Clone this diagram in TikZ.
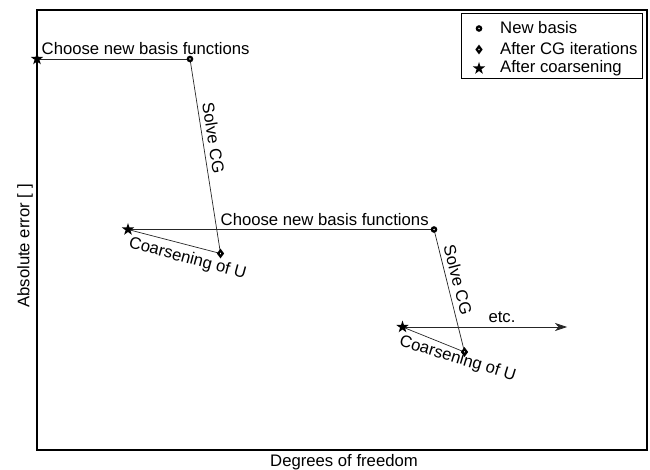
\documentclass[tikz,border=0pt]{standalone}
\usepackage{fontspec}
\setmainfont{Liberation Sans}
\usetikzlibrary{shapes.geometric,arrows.meta}
\begin{document}
\begin{tikzpicture}[x=1pt,y=-1pt,
  every node/.style={font=\fontsize{16.7}{20}\selectfont, inner sep=0pt},
  conn/.style={line width=0.7pt, draw=black!85},
  frame/.style={line width=1.3pt},
  starmark/.style={star, star points=5, star point ratio=2.6, fill=black, minimum size=13pt, inner sep=0pt},
  circmark/.style={circle, draw=black, line width=2.3pt, fill=white, minimum size=4.2pt, inner sep=0pt},
  diamark/.style={diamond, draw=black, line width=2.2pt, fill=white, minimum width=5.5pt, minimum height=7pt, inner sep=0pt}
]
\useasboundingbox (0,0) rectangle (650,470);
% frame
\draw[frame] (37,10) rectangle (647,450);
% axis labels
\node (xl) at (344,462) {Degrees of freedom};
\node[rotate=90] (yl) at (25,246) {Absolute error [ ]};
% points
\coordinate (s1) at (37,59);
\coordinate (c1) at (190,59);
\coordinate (d1) at (220.5,253.5);
\coordinate (s2) at (128,229.5);
\coordinate (c2) at (434,229.5);
\coordinate (d2) at (464.5,352);
\coordinate (s3) at (402.5,327);
\coordinate (e3) at (567,327);
% connectors
\draw[conn] (s1) -- (c1);
\draw[conn] (c1) -- (d1);
\draw[conn] (d1) -- (s2);
\draw[conn] (s2) -- (c2);
\draw[conn] (c2) -- (d2);
\draw[conn] (d2) -- (s3);
\draw[conn, -{Stealth[length=12pt,width=8pt,inset=3.5pt]}] (s3) -- (e3);
% markers
\node[starmark] (m1) at (s1) {};
\node[circmark] (m2) at (c1) {};
\node[diamark] (m3) at (d1) {};
\node[starmark] (m4) at (s2) {};
\node[circmark] (m5) at (c2) {};
\node[diamark] (m6) at (d2) {};
\node[starmark] (m7) at (s3) {};
% labels
\node[anchor=base west] (t1) at (41.5,55) {Choose new basis functions};
\node[anchor=base west] (t2) at (220.5,225.5) {Choose new basis functions};
\node[rotate=-81.25] (t3) at (213.5,138) {Solve CG};
\node[rotate=-75.7] (t4) at (458,280) {Solve CG};
\node[rotate=-15.2] (t5) at (187.5,259) {Coarsening of U};
\node[rotate=-17] (t6) at (457.5,359) {Coarsening of U};
\node[anchor=base] (t7) at (502,322.5) {etc.};
% legend
\draw[line width=1pt] (461,13.5) rectangle (642,78.5);
\node[circmark] (lg1) at (479,28.5) {};
\node[diamark] (lg2) at (479,49.5) {};
\node[starmark] (lg3) at (479,68.5) {};
\node[anchor=base west] (lt1) at (500,34) {New basis};
\node[anchor=base west] (lt2) at (500,55) {After CG iterations};
\node[anchor=base west] (lt3) at (500,73) {After coarsening};
\end{tikzpicture}
\end{document}
